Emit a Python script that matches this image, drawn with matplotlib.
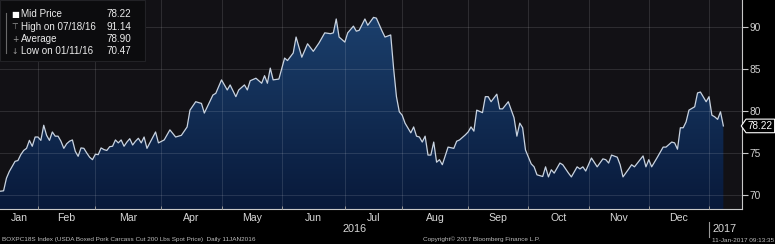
import numpy as np
import matplotlib
matplotlib.use('Agg')
import matplotlib.pyplot as plt
from matplotlib.path import Path
from matplotlib.patches import Rectangle
from matplotlib.lines import Line2D
from matplotlib.transforms import blended_transform_factory
from matplotlib.colors import LinearSegmentedColormap

plt.rcParams['font.family'] = ['Liberation Sans', 'DejaVu Sans']

# BOXPC18S daily prices (trading days only)
dates = [
    '2016-01-11', '2016-01-12', '2016-01-13', '2016-01-14', '2016-01-15', '2016-01-19', '2016-01-20',
    '2016-01-21', '2016-01-22', '2016-01-25', '2016-01-26', '2016-01-27', '2016-01-28', '2016-01-29',
    '2016-02-01', '2016-02-02', '2016-02-03', '2016-02-04', '2016-02-05', '2016-02-08', '2016-02-09',
    '2016-02-10', '2016-02-11', '2016-02-12', '2016-02-16', '2016-02-17', '2016-02-18', '2016-02-19',
    '2016-02-22', '2016-02-23', '2016-02-24', '2016-02-25', '2016-02-26', '2016-02-29',
    '2016-03-01', '2016-03-02', '2016-03-03', '2016-03-04', '2016-03-07', '2016-03-08', '2016-03-09',
    '2016-03-10', '2016-03-11', '2016-03-14', '2016-03-15', '2016-03-16', '2016-03-17', '2016-03-18',
    '2016-03-21', '2016-03-22', '2016-03-23', '2016-03-24', '2016-03-25', '2016-03-30', '2016-03-31',
    '2016-04-04', '2016-04-06', '2016-04-08', '2016-04-12', '2016-04-14', '2016-04-15', '2016-04-19',
    '2016-04-21', '2016-04-22', '2016-04-27', '2016-04-28',
    '2016-05-02', '2016-05-04', '2016-05-05', '2016-05-09', '2016-05-10', '2016-05-12', '2016-05-13',
    '2016-05-16', '2016-05-18', '2016-05-20', '2016-05-23', '2016-05-24', '2016-05-25', '2016-05-26',
    '2016-05-31',
    '2016-06-02', '2016-06-03', '2016-06-07', '2016-06-08', '2016-06-10', '2016-06-14', '2016-06-16',
    '2016-06-20', '2016-06-22', '2016-06-24', '2016-06-27', '2016-06-28', '2016-06-29',
    '2016-07-01', '2016-07-05', '2016-07-07', '2016-07-08', '2016-07-11', '2016-07-13', '2016-07-14',
    '2016-07-18', '2016-07-19', '2016-07-21', '2016-07-22', '2016-07-26', '2016-07-27', '2016-07-28',
    '2016-07-29',
    '2016-08-01', '2016-08-02', '2016-08-04', '2016-08-05', '2016-08-08', '2016-08-09', '2016-08-10',
    '2016-08-11', '2016-08-12', '2016-08-15', '2016-08-16', '2016-08-17', '2016-08-18', '2016-08-19',
    '2016-08-23', '2016-08-25', '2016-08-26', '2016-08-29', '2016-08-31',
    '2016-09-01', '2016-09-02', '2016-09-06', '2016-09-07', '2016-09-09', '2016-09-12', '2016-09-13',
    '2016-09-14', '2016-09-16', '2016-09-19', '2016-09-20', '2016-09-22', '2016-09-26', '2016-09-27',
    '2016-09-28', '2016-09-29', '2016-09-30',
    '2016-10-04', '2016-10-05', '2016-10-06', '2016-10-10', '2016-10-11', '2016-10-12', '2016-10-13',
    '2016-10-14', '2016-10-18', '2016-10-19', '2016-10-21', '2016-10-24', '2016-10-26', '2016-10-27',
    '2016-10-28', '2016-10-31',
    '2016-11-02', '2016-11-04', '2016-11-08', '2016-11-09', '2016-11-10', '2016-11-11', '2016-11-15',
    '2016-11-16', '2016-11-17', '2016-11-21', '2016-11-22', '2016-11-23', '2016-11-29', '2016-11-30',
    '2016-12-01', '2016-12-02', '2016-12-06', '2016-12-08', '2016-12-09', '2016-12-13', '2016-12-14',
    '2016-12-15', '2016-12-16', '2016-12-19', '2016-12-20', '2016-12-21', '2016-12-23', '2016-12-27',
    '2016-12-28', '2016-12-30',
    '2017-01-03', '2017-01-04', '2017-01-05', '2017-01-06', '2017-01-09', '2017-01-10',
]
prices = [
    70.47, 70.45, 70.5, 72.0, 72.8, 73.4, 74.0, 74.1, 74.8, 75.3, 75.55, 76.5, 75.8, 76.9,
    76.9, 76.5, 78.3, 77.1, 76.5, 77.5, 77.0, 77.0, 76.4, 75.55, 76.1, 76.4, 76.55, 75.2,
    74.6, 75.6, 75.55, 75.0, 74.5, 74.2,
    74.85, 74.8, 75.6, 75.4, 75.3, 75.75, 75.8, 76.55, 76.2, 76.55, 75.8, 76.3, 76.7, 75.95,
    76.4, 76.75, 76.2, 76.9, 75.55, 77.5, 76.2,
    76.55, 77.75, 76.9, 77.1, 78.1, 80.1, 81.1, 80.9, 79.75, 81.9, 82.1,
    83.7, 82.5, 83.1, 81.7, 82.5, 83.1, 82.5, 83.6, 83.9, 83.3, 84.2, 83.3, 85.1, 83.7, 83.8,
    86.3, 86.0, 86.9, 88.8, 86.4, 88.0, 87.1, 88.1, 89.3, 89.2, 89.3, 90.95, 88.8,
    88.2, 89.3, 90.1, 89.5, 89.6, 90.95, 90.2, 91.14, 91.05, 89.5, 88.8, 89.05, 85.1, 81.7, 79.9,
    79.5, 78.55, 77.4, 78.1, 77.0, 76.9, 76.3, 77.0, 74.75, 74.75, 76.3, 73.9, 74.2, 73.6,
    75.7, 75.55, 76.4, 76.55, 77.15,
    77.5, 78.1, 77.6, 80.1, 79.8, 81.7, 81.7, 81.1, 82.0, 80.25, 80.25, 81.1, 79.2, 77.0,
    78.55, 78.0, 75.35,
    73.7, 73.35, 72.4, 72.2, 73.35, 72.15, 73.0, 72.6, 73.8, 73.6, 72.6, 72.15, 73.35, 73.1,
    73.35, 72.85,
    74.4, 73.35, 74.3, 74.2, 73.8, 74.75, 74.5, 73.6, 72.15, 73.1, 73.6, 73.35, 74.65, 73.35,
    74.2, 73.35, 74.5, 75.7, 75.7, 76.3, 76.2, 75.45, 78.0, 78.0, 78.7, 80.1, 80.5, 82.15,
    82.25, 81.1,
    81.7, 79.5, 79.3, 79.0, 79.9, 78.22,
]
holidays = ['2016-01-18', '2016-02-15', '2016-05-30', '2016-07-04', '2016-09-05',
            '2016-11-24', '2016-12-26', '2017-01-02']
months = ['Jan', 'Feb', 'Mar', 'Apr', 'May', 'Jun', 'Jul', 'Aug', 'Sep', 'Oct', 'Nov', 'Dec']
month_starts = ['2016-%02d-01' % m for m in range(1, 13)] + ['2017-01-01']
y_ticks = [70, 75, 80, 85, 90]
legend_rows = [('Mid Price', '78.22'), ('High on 07/18/16', '91.14'),
               ('Average', '78.90'), ('Low on 01/11/16', '70.47')]

start = dates[0]
x = np.busday_count(start, np.array(dates, dtype='datetime64[D]'), holidays=holidays)
y = np.array(prices)
first_days = np.busday_offset(np.array(month_starts, dtype='datetime64[D]'), 0,
                              roll='forward', holidays=holidays)
bounds = np.busday_count(start, first_days, holidays=holidays)

xlo, xhi = 0.75, 259.5
ylo, yhi = 68.33, 93.21

fig = plt.figure(figsize=(7.75, 2.44), dpi=100, facecolor='black')
ax = fig.add_axes([0, 1 - 209 / 244, 742 / 775, 209 / 244])
ax.set_facecolor('#121115')

# gradient area under the line
cmap = LinearSegmentedColormap.from_list('bb', ['#08193a', '#1d4371'])
grad = np.linspace(0, 1, 256).reshape(-1, 1)
im = ax.imshow(grad, extent=[xlo, xhi, ylo, yhi], origin='lower', aspect='auto',
               cmap=cmap, zorder=1, interpolation='bilinear')
area = ax.fill_between(x, y, ylo, color='none', lw=0)
im.set_clip_path(area.get_paths()[0], transform=ax.transData)
ax.plot(x, y, color='#c9d3e0', lw=0.9, zorder=3)

ax.set_xlim(xlo, xhi)
ax.set_ylim(ylo, yhi)

# grid
ax.set_axisbelow(False)
ax.set_xticks(bounds[1:])
ax.set_yticks(y_ticks)
ax.grid(True, color='white', alpha=0.12, lw=0.7)

mids = [(max(bounds[i], xlo) + bounds[i + 1]) / 2 for i in range(12)]
ax.set_xticks(mids, minor=True)
ax.set_xticklabels(months, minor=True)
ax.tick_params(axis='x', which='major', direction='in', length=2.5, width=0.7,
               color='#9a9a9a', labelbottom=False)
ax.tick_params(axis='x', which='minor', length=0, pad=3, labelsize=7.6,
               labelcolor='#d8d8d8')

ax.yaxis.tick_right()
ax.tick_params(axis='y', direction='out', length=4, width=0.8, color='#c8c8c8',
               labelcolor='#d0d0d0', labelsize=7.3, pad=1.5)
for s in ['left', 'top']:
    ax.spines[s].set_visible(False)
for s in ['right', 'bottom']:
    ax.spines[s].set_color('#c8c8c8')
    ax.spines[s].set_linewidth(0.8)


def tag_box(x0, y0, width, height, mutation_size):
    pad = 0.18 * mutation_size
    x0, y0 = x0 - pad, y0 - pad
    x1, y1 = x0 + width + 2 * pad, y0 + height + 2 * pad
    tip = 0.35 * (y1 - y0)
    ym = (y0 + y1) / 2
    return Path([(x0 - tip, ym), (x0, y0), (x1, y0), (x1, y1), (x0, y1), (x0 - tip, ym)],
                closed=True)


ax.annotate('%.2f' % y[-1], xy=(1, y[-1]), xycoords=('axes fraction', 'data'),
            xytext=(4.2, 0), textcoords='offset points', ha='left', va='center',
            fontsize=7.2, color='white', zorder=5, annotation_clip=False,
            bbox=dict(boxstyle=tag_box, fc='black', ec='white', lw=0.8))

# year labels
tr = blended_transform_factory(ax.transData, fig.transFigure)
ax.text((xlo + bounds[12]) / 2, 1 - 229 / 244, '2016', transform=tr, ha='center',
        va='center', fontsize=7.8, color='#d8d8d8')
ax.plot([bounds[12], bounds[12]], [1 - 222 / 244, 1 - 237 / 244], transform=tr,
        color='#9a9a9a', lw=0.8, clip_on=False)
ax.text(bounds[12] + 1.3, 1 - 229 / 244, '2017', transform=tr, ha='left',
        va='center', fontsize=7.8, color='#d8d8d8')

# legend box
fig.add_artist(Rectangle((0, 1 - 61 / 244), 145 / 775, 61 / 244, transform=fig.transFigure,
                         fc='#0c0c0e', ec='#222226', lw=0.8, zorder=4))
fig.add_artist(Line2D([6 / 775, 6 / 775], [1 - 13 / 244, 1 - 53 / 244],
                      transform=fig.transFigure, color='#6a6a6a', lw=0.8, zorder=5))
marks = ['■', '⊤', '+', '↓']
for k, (name, val) in enumerate(legend_rows):
    yy = 1 - (14 + 12.5 * k) / 244
    fig.text(15 / 775, yy, marks[k], ha='center', va='center', fontsize=6 if k == 0 else 5.5,
             color='white' if k == 0 else '#a0a0a0', family=['DejaVu Sans'], zorder=6)
    fig.text(21 / 775, yy, name, ha='left', va='center', fontsize=7.1, color='#ececec', zorder=6)
    fig.text(131 / 775, yy, val, ha='right', va='center', fontsize=7.1, color='#ececec', zorder=6)

# footer
fig.text(2 / 775, 1 - 239 / 244,
         'BOXPC18S Index (USDA Boxed Pork Carcass Cut 200 Lbs Spot Price)  Daily 11JAN2016',
         ha='left', va='center', fontsize=4.6, color='#bdbdbd')
fig.text(423 / 775, 1 - 239 / 244, 'Copyright\u00a9 2017 Bloomberg Finance L.P.',
         ha='left', va='center', fontsize=4.6, color='#bdbdbd')
fig.text(774 / 775, 1 - 240 / 244, '11-Jan-2017 09:13:35',
         ha='right', va='center', fontsize=4.6, color='#bdbdbd')

fig.savefig('out.png', dpi=100, facecolor='black')
